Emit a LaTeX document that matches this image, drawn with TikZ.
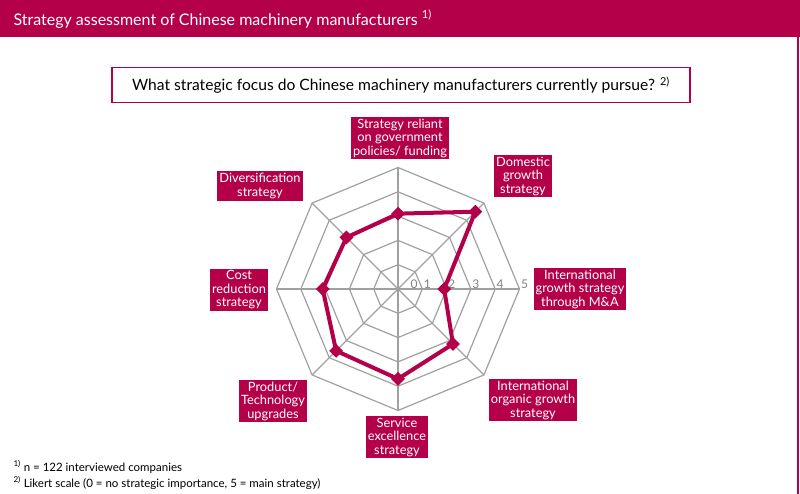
\documentclass[tikz,border=0pt]{standalone}
\usepackage{fontspec}
\setmainfont{Lato}
\usetikzlibrary{calc,shapes.geometric}
\definecolor{rbred}{RGB}{180,0,72}
\definecolor{gridgrey}{RGB}{160,160,160}
\tikzset{
  axislabel/.style={fill=rbred,text=white,align=center,inner sep=2pt,font=\fontsize{12.8}{13.5}\selectfont},
  datamark/.style={diamond,fill=rbred,inner sep=0pt,minimum size=14pt},
  scalelabel/.style={text=gray,font=\fontsize{12}{12}\selectfont,inner sep=0pt}
}
\begin{document}
\begin{tikzpicture}[x=1pt,y=-1pt]
\useasboundingbox (0,0) rectangle (800,494);
% header
\fill[rbred] (0,0) rectangle (800,37);
\draw[rbred,line width=2pt] (798,37) -- (798,494);
\node[anchor=west,text=white,font=\fontsize{16}{16}\selectfont] (title) at (10,19) {Strategy assessment of Chinese machinery manufacturers \textsuperscript{1)}};
\node[draw=rbred,line width=1.5pt,minimum width=578pt,minimum height=35pt,font=\fontsize{15.6}{15.6}\selectfont] (question) at (401,85) {What strategic focus do Chinese machinery manufacturers currently pursue? \textsuperscript{2)}};

% radar
\begin{scope}[shift={(398,289)},yscale=-1]
\coordinate (centre) at (0,0);
\foreach \r in {1,...,5}
  \draw[gridgrey,line width=1.2pt] (90:{\r*24.3}) \foreach \a in {45,0,...,-225} {-- (\a:{\r*24.3})} -- cycle;
\foreach \a in {90,45,...,-225}
  \draw[gridgrey,line width=1.2pt] (centre) -- (\a:121.5);
\node[scalelabel] (s0) at (16,5) {0};
\foreach \r in {1,...,5}
  \node[scalelabel] (s\r) at ({\r*24.3+5},5) {\r};
\foreach \v [count=\i from 0] in {3.1,4.5,1.9,3.2,3.7,3.6,3.1,3.0}
  \coordinate (p\i) at ({90-45*\i}:{\v*24.3});
\draw[rbred,line width=4pt,line join=round] (p0) -- (p1) -- (p2) -- (p3) -- (p4) -- (p5) -- (p6) -- (p7) -- cycle;
\foreach \i in {0,...,7}
  \node[datamark] (m\i) at (p\i) {};
\end{scope}

% axis labels
\node[axislabel] (gov) at (400,138) {Strategy reliant\\on government\\policies/ funding};
\node[axislabel] (domestic) at (523,176) {Domestic\\growth\\strategy};
\node[axislabel] (mna) at (580,289) {International\\growth strategy\\through M\&A};
\node[axislabel] (organic) at (533,400) {International\\organic growth\\strategy};
\node[axislabel] (service) at (397,437) {Service\\excellence\\strategy};
\node[axislabel] (product) at (273,401) {Product/\\Technology\\upgrades};
\node[axislabel] (cost) at (239,290) {Cost\\reduction\\strategy};
\node[axislabel] (divers) at (260,186) {Diversification\\strategy};

% notes
\node[anchor=west,font=\fontsize{11.5}{11.5}\selectfont] (note1) at (10,467) {\textsuperscript{1)} n = 122 interviewed companies};
\node[anchor=west,font=\fontsize{11.5}{11.5}\selectfont] (note2) at (10,483) {\textsuperscript{2)} Likert scale (0 = no strategic importance, 5 = main strategy)};
\end{tikzpicture}
\end{document}
